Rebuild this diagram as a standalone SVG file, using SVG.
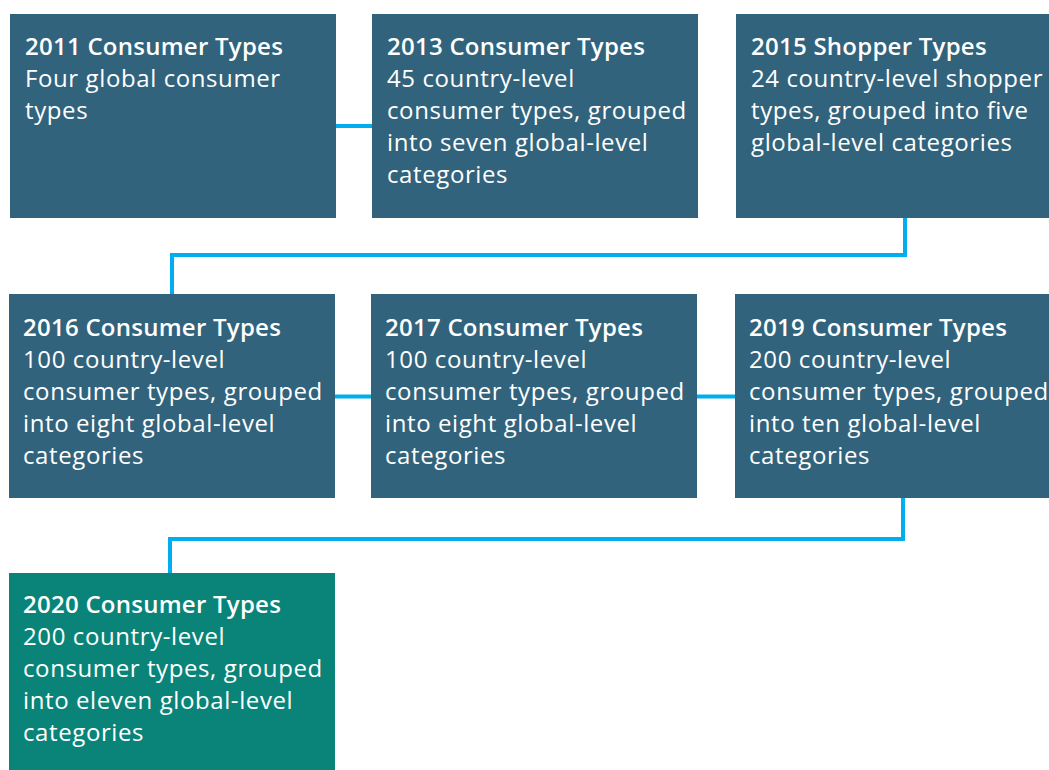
<svg xmlns="http://www.w3.org/2000/svg" width="1049" height="770" viewBox="0 0 1049 770">
<style>
.box{fill:#32637C}
.green{fill:#0A8478}
.t{font-family:"Open Sans","Noto Sans",sans-serif;font-size:24px;fill:#fff;letter-spacing:0.6px}
.h{font-weight:600;letter-spacing:0.25px}
.c{fill:none;stroke:#00AEEF;stroke-width:4}
</style>
<rect width="1049" height="770" fill="#fff"/>
<g id="connectors">
<line class="c" x1="336" y1="126" x2="372" y2="126"/>
<polyline class="c" points="905,218 905,255 172,255 172,294"/>
<line class="c" x1="335" y1="396.5" x2="371" y2="396.5"/>
<line class="c" x1="697" y1="396.5" x2="735" y2="396.5"/>
<polyline class="c" points="903,498 903,539 170,539 170,573"/>
</g>
<g id="n2011"><rect class="box" x="10" y="14" width="326" height="204"/>
<text class="t"><tspan class="h" x="25" y="55">2011 Consumer Types</tspan><tspan x="25" y="87">Four global consumer</tspan><tspan x="25" y="119">types</tspan></text></g>
<g id="n2013"><rect class="box" x="372" y="14" width="326" height="204"/>
<text class="t"><tspan class="h" x="387" y="55">2013 Consumer Types</tspan><tspan x="387" y="87">45 country-level</tspan><tspan x="387" y="119">consumer types, grouped</tspan><tspan x="387" y="151">into seven global-level</tspan><tspan x="387" y="183">categories</tspan></text></g>
<g id="n2015"><rect class="box" x="736" y="14" width="313" height="204"/>
<text class="t"><tspan class="h" x="751" y="55">2015 Shopper Types</tspan><tspan x="751" y="87">24 country-level shopper</tspan><tspan x="751" y="119">types, grouped into five</tspan><tspan x="751" y="151">global-level categories</tspan></text></g>
<g id="n2016"><rect class="box" x="9" y="294" width="326" height="204"/>
<text class="t"><tspan class="h" x="23" y="336">2016 Consumer Types</tspan><tspan x="23" y="368">100 country-level</tspan><tspan x="23" y="400">consumer types, grouped</tspan><tspan x="23" y="432">into eight global-level</tspan><tspan x="23" y="464">categories</tspan></text></g>
<g id="n2017"><rect class="box" x="371" y="294" width="326" height="204"/>
<text class="t"><tspan class="h" x="385" y="336">2017 Consumer Types</tspan><tspan x="385" y="368">100 country-level</tspan><tspan x="385" y="400">consumer types, grouped</tspan><tspan x="385" y="432">into eight global-level</tspan><tspan x="385" y="464">categories</tspan></text></g>
<g id="n2019"><rect class="box" x="735" y="294" width="314" height="204"/>
<text class="t"><tspan class="h" x="749" y="336">2019 Consumer Types</tspan><tspan x="749" y="368">200 country-level</tspan><tspan x="749" y="400">consumer types, grouped</tspan><tspan x="749" y="432">into ten global-level</tspan><tspan x="749" y="464">categories</tspan></text></g>
<g id="n2020"><rect class="green" x="9" y="573" width="326" height="197"/>
<text class="t"><tspan class="h" x="23" y="613">2020 Consumer Types</tspan><tspan x="23" y="645">200 country-level</tspan><tspan x="23" y="677">consumer types, grouped</tspan><tspan x="23" y="709">into eleven global-level</tspan><tspan x="23" y="741">categories</tspan></text></g>
</svg>
